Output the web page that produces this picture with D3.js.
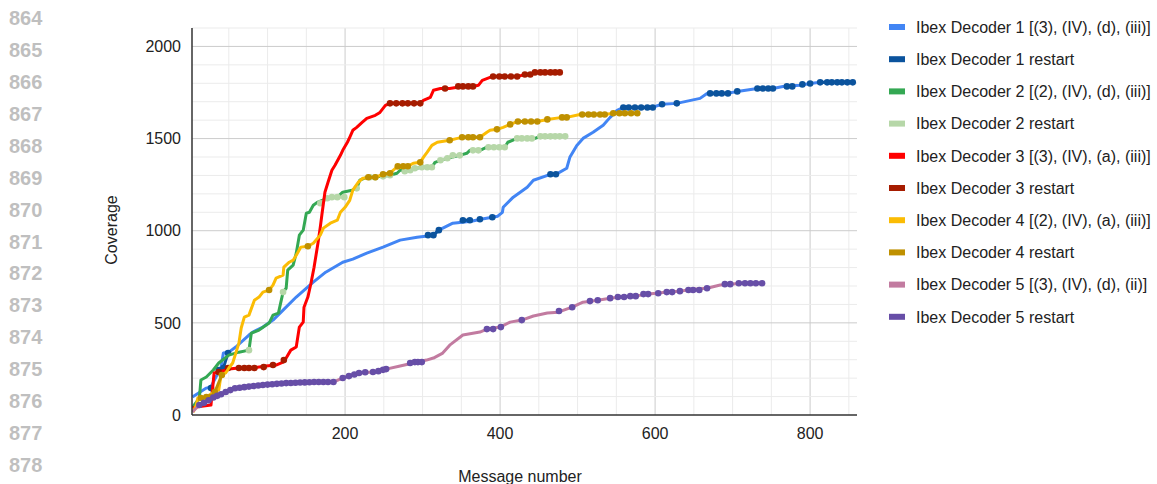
<!DOCTYPE html>
<html>
<head>
<meta charset="utf-8">
<script src="https://cdn.jsdelivr.net/npm/d3@7"></script>
<style>
  html, body { margin: 0; padding: 0; background: #fff; }
  svg { display: block; font-family: "Liberation Sans", Arial, sans-serif; }
</style>
</head>
<body>
<svg id="chart" width="1157" height="484"></svg>
<script>
// ---------- DATA ----------
const lineNumbers = ["864","865","866","867","868","869","870","871","872","873","874","875","876","877","878"];
const xTicks = [200, 400, 600, 800];
const yTicks = [0, 500, 1000, 1500, 2000];
const seriesNames = [
  "Ibex Decoder 1 [(3), (IV), (d), (iii)]",
  "Ibex Decoder 1 restart",
  "Ibex Decoder 2 [(2), (IV), (d), (iii)]",
  "Ibex Decoder 2 restart",
  "Ibex Decoder 3 [(3), (IV), (a), (iii)]",
  "Ibex Decoder 3 restart",
  "Ibex Decoder 4 [(2), (IV), (a), (iii)]",
  "Ibex Decoder 4 restart",
  "Ibex Decoder 5 [(3), (IV), (d), (ii)]",
  "Ibex Decoder 5 restart"
];
const seriesColors = ["#4285f4","#0b539d","#34a853","#b6d7a8","#ff0000","#a61c00","#fbbc04","#bf9000","#c27ba0","#674ea7"];

const decoder1 = [[3,98],[21,146],[27,152],[30,179],[40,260],[43,336],[50,341],[59,369],[76,434],[81,450],[94,477],[107,515],[120,569],[137,640],[159,721],[175,775],[197,829],[210,846],[228,878],[249,911],[271,949],[293,965],[314,976],[321,1003],[339,1041],[363,1051],[375,1062],[390,1073],[397,1079],[403,1100],[404,1127],[417,1182],[435,1236],[443,1274],[465,1306],[472,1306],[486,1339],[490,1398],[499,1463],[507,1501],[520,1534],[533,1572],[542,1615],[551,1653],[559,1669],[596,1669],[609,1686],[628,1691],[658,1718],[667,1745],[693,1745],[706,1756],[732,1772],[752,1772],[765,1783],[787,1789],[800,1799],[813,1805],[856,1805]];
const decoder1Restart = [[27,146],[37,244],[43,255],[49,336],[307,976],[314,976],[321,1003],[352,1057],[361,1057],[374,1062],[390,1073],[465,1306],[472,1306],[559,1669],[566,1669],[574,1669],[582,1669],[590,1669],[597,1669],[609,1686],[628,1691],[671,1745],[679,1745],[686,1745],[694,1745],[706,1756],[732,1772],[739,1772],[746,1772],[752,1772],[770,1783],[777,1783],[790,1794],[800,1799],[813,1805],[822,1805],[828,1805],[835,1805],[841,1805],[848,1805],[855,1805]];

const decoder2 = [[3,40],[12,92],[14,190],[21,206],[30,244],[37,282],[50,325],[63,341],[76,352],[79,444],[89,461],[102,499],[107,542],[114,553],[120,667],[124,688],[126,786],[133,813],[137,878],[141,976],[146,1003],[150,1095],[154,1100],[159,1138],[164,1154],[177,1176],[190,1182],[197,1209],[209,1220],[215,1230],[219,1274],[228,1290],[249,1295],[258,1301],[267,1312],[271,1328],[284,1328],[297,1344],[312,1344],[316,1371],[332,1393],[348,1409],[357,1420],[361,1436],[374,1436],[383,1453],[406,1453],[410,1480],[422,1501],[445,1501],[449,1507],[484,1512]];
const decoder2Restart = [[76,352],[120,667],[168,1149],[177,1176],[183,1182],[190,1182],[199,1182],[215,1230],[232,1290],[239,1290],[249,1295],[258,1301],[277,1323],[284,1328],[290,1339],[299,1344],[306,1344],[312,1344],[323,1382],[332,1393],[339,1409],[348,1409],[365,1436],[372,1436],[385,1453],[392,1453],[399,1453],[406,1453],[422,1501],[428,1501],[435,1501],[441,1501],[452,1512],[458,1512],[465,1512],[471,1512],[477,1512],[484,1512]];

const decoder3 = [[3,38],[8,43],[27,54],[31,228],[37,233],[50,249],[63,255],[81,255],[98,266],[111,271],[120,287],[124,309],[130,352],[137,369],[141,477],[146,504],[147,585],[152,640],[156,715],[160,802],[165,932],[168,1019],[170,1084],[174,1209],[178,1263],[183,1328],[187,1355],[194,1409],[197,1436],[203,1480],[206,1507],[210,1545],[215,1561],[222,1588],[228,1610],[239,1626],[245,1642],[252,1680],[258,1691],[297,1691],[301,1707],[310,1724],[314,1762],[323,1772],[335,1772],[345,1778],[365,1783],[372,1789],[377,1816],[387,1832],[391,1837],[422,1837],[428,1843],[439,1848],[445,1859],[477,1859]];
const decoder3Restart = [[37,233],[49,255],[63,255],[70,255],[76,255],[83,255],[95,260],[107,271],[121,298],[258,1691],[266,1691],[274,1691],[281,1691],[289,1691],[297,1691],[329,1772],[346,1783],[352,1783],[359,1783],[365,1783],[391,1837],[399,1837],[406,1837],[414,1837],[422,1837],[432,1848],[439,1848],[445,1859],[452,1859],[458,1859],[465,1859],[471,1859],[477,1859]];

const decoder4 = [[4,16],[8,54],[10,92],[21,98],[31,125],[37,136],[40,217],[46,228],[50,255],[55,282],[59,336],[63,390],[66,472],[70,531],[76,542],[83,623],[89,640],[94,667],[102,678],[107,705],[111,743],[120,759],[121,802],[128,829],[133,840],[137,867],[143,911],[152,916],[159,932],[168,976],[172,1014],[181,1041],[190,1057],[194,1100],[200,1127],[206,1165],[210,1220],[217,1263],[223,1285],[239,1290],[249,1306],[258,1312],[265,1339],[281,1350],[288,1366],[297,1371],[301,1398],[306,1426],[312,1463],[319,1480],[335,1491],[345,1501],[352,1507],[374,1507],[383,1534],[387,1545],[396,1550],[404,1561],[413,1577],[423,1593],[448,1593],[461,1604],[480,1615],[486,1615],[503,1631],[535,1631],[546,1637],[577,1637]];
const decoder4Restart = [[14,92],[21,98],[27,98],[32,125],[41,217],[102,678],[152,916],[230,1290],[239,1290],[249,1306],[258,1312],[268,1350],[275,1350],[281,1350],[297,1371],[335,1491],[351,1507],[359,1507],[365,1507],[374,1507],[396,1550],[413,1577],[423,1593],[432,1593],[440,1593],[448,1593],[461,1604],[480,1615],[486,1615],[506,1631],[514,1631],[521,1631],[529,1631],[535,1631],[546,1637],[554,1637],[561,1637],[569,1637],[577,1637]];

const decoder5 = [[3,16],[12,54],[25,81],[37,108],[46,125],[59,146],[72,152],[94,163],[124,173],[166,179],[185,179],[197,201],[205,211],[218,228],[236,233],[253,249],[271,266],[288,282],[305,298],[314,309],[326,336],[335,379],[352,434],[374,450],[383,466],[400,477],[413,504],[428,515],[443,537],[461,553],[475,558],[493,585],[507,612],[526,623],[542,634],[555,640],[574,645],[590,656],[603,661],[615,667],[632,672],[649,683],[667,688],[684,705],[697,710],[710,715],[738,715]];
const decoder5Restart = [[12,54],[18,66],[24,80],[30,95],[35,104],[40,113],[46,125],[52,135],[58,145],[64,148],[70,151],[76,154],[82,157],[88,160],[94,163],[100,165],[106,167],[112,169],[118,171],[124,173],[130,174],[136,175],[142,176],[148,177],[154,178],[160,179],[166,179],[172,179],[178,179],[185,179],[197,201],[205,211],[212,220],[218,228],[226,232],[236,233],[243,238],[249,245],[253,249],[284,282],[290,287],[294,287],[299,287],[383,466],[391,466],[401,477],[428,515],[476,564],[493,585],[516,618],[526,623],[542,634],[552,640],[560,640],[568,645],[575,645],[585,656],[591,656],[604,661],[615,667],[622,667],[632,672],[643,678],[649,678],[657,678],[667,688],[690,710],[697,710],[708,715],[716,715],[723,715],[730,715],[738,715]];

const seriesData = [decoder1, decoder1Restart, decoder2, decoder2Restart, decoder3, decoder3Restart, decoder4, decoder4Restart, decoder5, decoder5Restart];
const isRestart = [false, true, false, true, false, true, false, true, false, true];

// ---------- LAYOUT ----------
const svg = d3.select("#chart");
const plot = { left: 192, right: 857, top: 28, bottom: 415 };
const x = d3.scaleLinear().domain([2.5, 860.5]).range([plot.left, plot.right]);
const y = d3.scaleLinear().domain([0, 2100]).range([plot.bottom, plot.top]);

// line numbers at left margin
svg.append("g").selectAll("text").data(lineNumbers).join("text")
  .attr("x", 9).attr("y", (d, i) => 25 + i * 31.93)
  .attr("font-size", 20).attr("font-weight", "bold").attr("fill", "#bfbfbf")
  .text(d => d);

// gridlines
const gx = svg.append("g");
const xMinor = d3.range(50, 860, 50);
const yMinor = d3.range(100, 2101, 100);
gx.selectAll("line.xg").data(xMinor).join("line")
  .attr("x1", d => x(d)).attr("x2", d => x(d))
  .attr("y1", plot.top).attr("y2", plot.bottom)
  .attr("stroke", d => d % 200 === 0 ? "#cccccc" : "#ebebeb").attr("stroke-width", 1);
gx.selectAll("line.yg").data(yMinor).join("line")
  .attr("x1", plot.left).attr("x2", plot.right)
  .attr("y1", d => y(d)).attr("y2", d => y(d))
  .attr("stroke", d => d % 500 === 0 ? "#cccccc" : "#ebebeb").attr("stroke-width", 1);

// clip
svg.append("clipPath").attr("id", "clip").append("rect")
  .attr("x", plot.left).attr("y", plot.top - 5)
  .attr("width", plot.right - plot.left + 4).attr("height", plot.bottom - plot.top + 5);

const lineGen = d3.line().x(d => x(d[0])).y(d => y(d[1]));
const gSeries = svg.append("g").attr("clip-path", "url(#clip)");

seriesData.forEach((data, i) => {
  const color = seriesColors[i];
  if (!isRestart[i]) {
    gSeries.append("path").datum(data)
      .attr("fill", "none").attr("stroke", color)
      .attr("stroke-width", 3).attr("stroke-linejoin", "round")
      .attr("d", lineGen);
  } else {
    // connect consecutive restart points that are close together
    const segs = [];
    for (let k = 1; k < data.length; k++) {
      if (data[k][0] - data[k - 1][0] <= 9) segs.push([data[k - 1], data[k]]);
    }
    gSeries.append("g").selectAll("path").data(segs).join("path")
      .attr("fill", "none").attr("stroke", color).attr("stroke-width", 3)
      .attr("d", lineGen);
    gSeries.append("g").selectAll("circle").data(data).join("circle")
      .attr("cx", d => x(d[0])).attr("cy", d => y(d[1])).attr("r", 3.3)
      .attr("fill", color);
  }
});

// axes lines
svg.append("line").attr("x1", plot.left).attr("x2", plot.left)
  .attr("y1", plot.top).attr("y2", plot.bottom).attr("stroke", "#333").attr("stroke-width", 1.5);
svg.append("line").attr("x1", plot.left).attr("x2", plot.right)
  .attr("y1", plot.bottom).attr("y2", plot.bottom).attr("stroke", "#333").attr("stroke-width", 1.5);

// tick labels
svg.append("g").selectAll("text").data(yTicks).join("text")
  .attr("x", 181).attr("y", d => y(d)).attr("dy", "0.36em")
  .attr("text-anchor", "end").attr("font-size", 16).attr("fill", "#222")
  .text(d => d);
svg.append("g").selectAll("text").data(xTicks).join("text")
  .attr("x", d => x(d)).attr("y", 439)
  .attr("text-anchor", "middle").attr("font-size", 16).attr("fill", "#222")
  .text(d => d);

// axis titles
svg.append("text").attr("transform", "translate(117,230) rotate(-90)")
  .attr("text-anchor", "middle").attr("font-size", 16).attr("fill", "#222").text("Coverage");
svg.append("text").attr("x", 520).attr("y", 482)
  .attr("text-anchor", "middle").attr("font-size", 16).attr("fill", "#222").text("Message number");

// legend
const lg = svg.append("g");
seriesNames.forEach((name, i) => {
  const cy = 27 + i * 32.2;
  lg.append("rect").attr("x", 889).attr("y", cy - 3).attr("width", 16).attr("height", 6)
    .attr("fill", seriesColors[i]);
  lg.append("text").attr("x", 916).attr("y", cy).attr("dy", "0.36em")
    .attr("font-size", 16).attr("fill", "#222").text(name);
});
</script>
</body>
</html>
